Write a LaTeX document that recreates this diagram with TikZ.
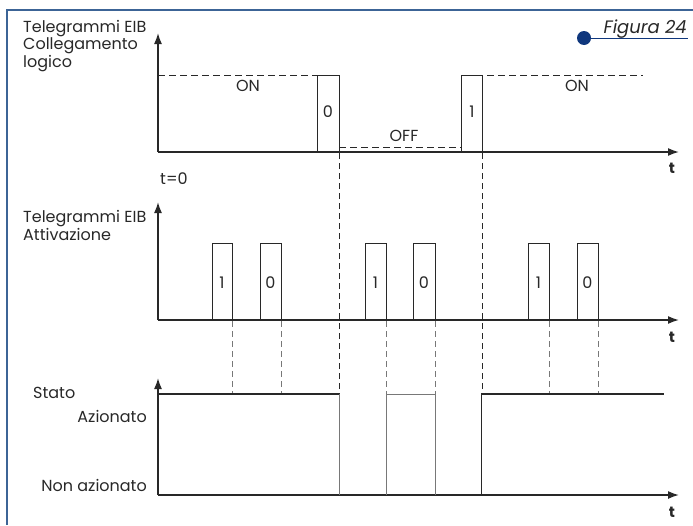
\documentclass[tikz,border=0pt]{standalone}
\usepackage{fontspec}
\setmainfont{Poppins}
\usetikzlibrary{arrows.meta}
\definecolor{frameblue}{RGB}{60,100,150}
\definecolor{figblue}{RGB}{15,55,125}
\definecolor{inkgray}{RGB}{40,40,40}
\definecolor{pulsegray}{RGB}{120,120,120}

\tikzset{
  axis/.style={line width=1.6pt,inkgray,-{Latex[length=11pt,width=8pt]}},
  pulse/.style={line width=0.8pt,inkgray},
  graypulse/.style={line width=0.9pt,pulsegray},
  level/.style={line width=0.8pt,inkgray,dash pattern=on 7pt off 4pt},
  guide/.style={line width=0.8pt,inkgray,dash pattern=on 6pt off 4pt},
  grayguide/.style={line width=0.9pt,pulsegray,dash pattern=on 6pt off 4pt},
  label/.style={font=\fontsize{16}{16}\selectfont,text=inkgray,inner sep=0pt},
  tlabel/.style={font=\fontsize{15}{15}\selectfont\bfseries,text=inkgray,inner sep=0pt}
}

\begin{document}
\begin{tikzpicture}[x=1pt,y=-1pt]
\useasboundingbox (0,0) rectangle (693,525);

% Frame and caption
\draw[frameblue,line width=1.2pt] (7,525) -- (7,10) -- (693,10);
\fill[figblue] (584,38) circle (7);
\draw[figblue,line width=1pt] (584,38) -- (688,38);
\node[label,font=\fontsize{18}{18}\selectfont\itshape,anchor=base east] (fig) at (687,33) {Figura 24};

% Chart 1: Collegamento logico
\node[label,align=left,anchor=base west] (lbllogic) at (23,67) {Telegrammi EIB\\Collegamento\\logico};
\draw[axis] (158,152) -- (158,33);
\draw[axis] (158,152) -- (679,152);
\node[tlabel,anchor=base] (t1) at (672,173) {t};
\node[label,anchor=base west] (tzero) at (160,184) {t=0};
\draw[level] (158,75) -- (317,75);
\draw[pulse] (317,151) -- (317,75) -- (339,75) -- (339,151);
\draw[level] (339,147) -- (461,147);
\draw[pulse] (461,151) -- (461,75) -- (482,75) -- (482,151);
\draw[level] (487,75) -- (643,75);
\node[label] (on1) at (248,86) {ON};
\node[label] (zero1) at (328,112) {0};
\node[label] (off1) at (404,136) {OFF};
\node[label] (one1) at (472,112) {1};
\node[label] (on2) at (577,86) {ON};

% Chart 2: Attivazione
\node[label,align=left,anchor=base west] (lblact) at (23,240) {Telegrammi EIB\\Attivazione};
\draw[axis] (158,320) -- (158,202);
\draw[axis] (158,320) -- (679,320);
\node[tlabel,anchor=base] (t2) at (672,342) {t};
\foreach \a/\b/\v in {212/232/1,260/281/0,365/386/1,413/435/0,528/549/1,577/598/0} {
  \draw[pulse] (\a,320) -- (\a,243) -- (\b,243) -- (\b,320);
  \node[label] at ({(\a+\b)/2},283) {\v};
  \draw[grayguide] (\b,321) -- (\b,394);
}

% Chart 3: Stato
\node[label,anchor=base west] (lblstate) at (33,398) {Stato};
\node[label,anchor=base east] (lblon) at (147,422) {Azionato};
\node[label,anchor=base east] (lbloff) at (147,491) {Non azionato};
\draw[axis] (158,495) -- (158,378);
\draw[axis] (158,495) -- (679,495);
\node[tlabel,anchor=base] (t3) at (672,517) {t};
\draw[line width=1.8pt,inkgray] (158,394) -- (339,394);
\draw[graypulse] (339,394) -- (339,495);
\draw[graypulse] (386,495) -- (386,394) -- (435,394) -- (435,495);
\draw[pulse] (481,495) -- (481,394);
\draw[line width=1.8pt,inkgray] (481,394) -- (664,394);

% Guides from chart 1
\draw[guide] (339,153) -- (339,394);
\draw[guide] (482,153) -- (482,394);
\end{tikzpicture}
\end{document}
